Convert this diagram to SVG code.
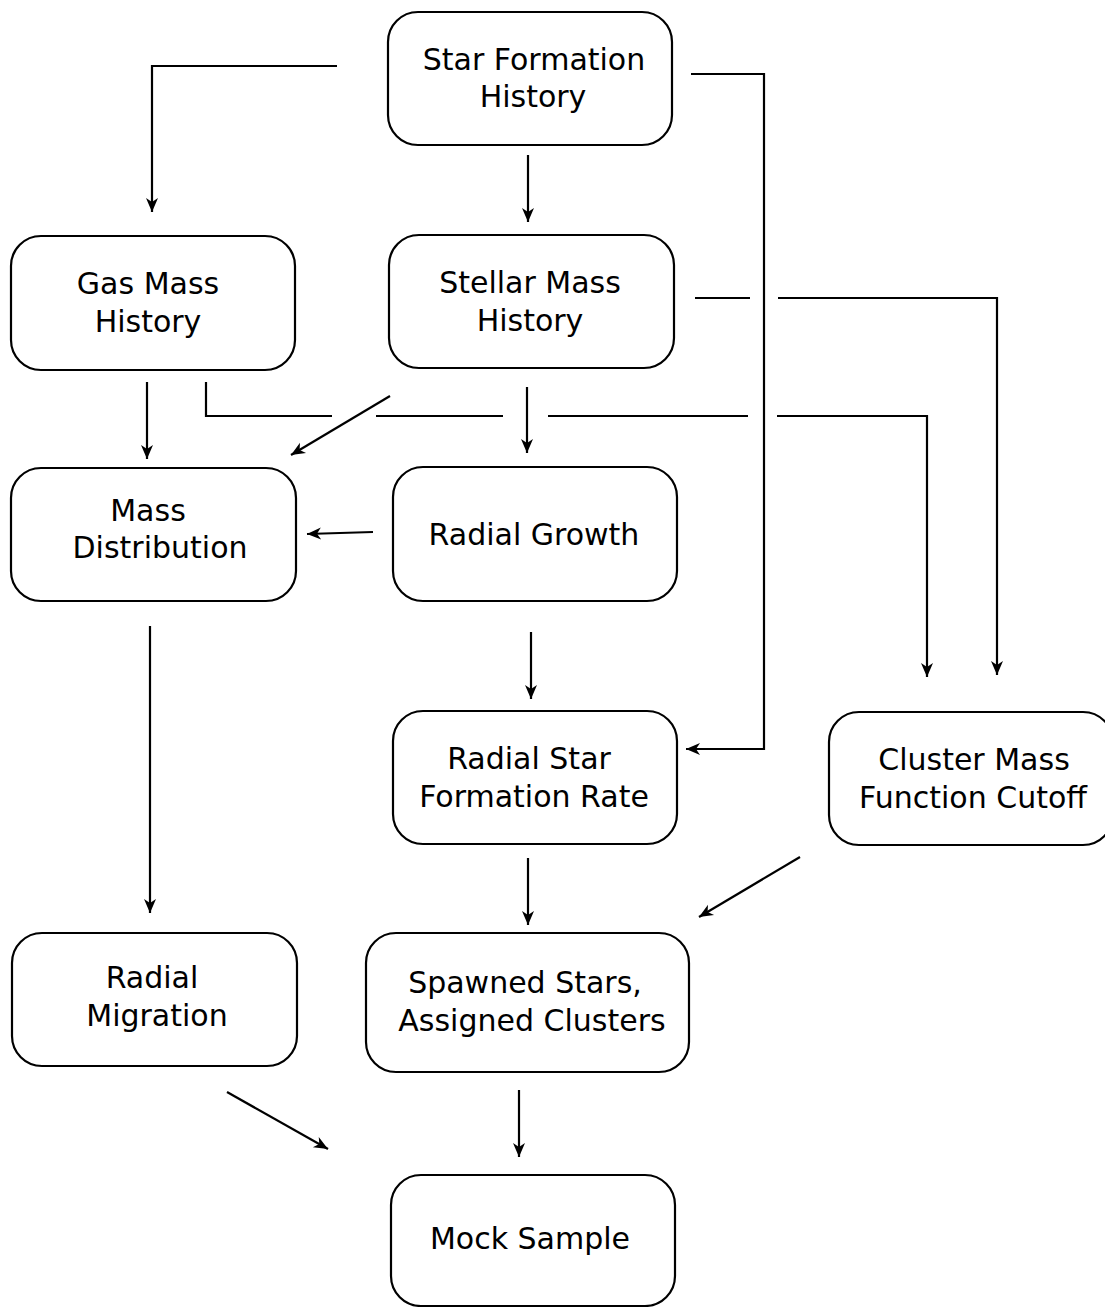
<svg xmlns="http://www.w3.org/2000/svg" width="1105" height="1307" viewBox="0 0 1105 1307">
<style>
.box{fill:#fff;stroke:#000;stroke-width:2.2}
.t{font-family:"DejaVu Sans",sans-serif;font-size:30px;fill:#000;text-anchor:middle}
.c{fill:none;stroke:#000;stroke-width:2.2}
</style>
<defs>
<marker id="ah" viewBox="-16 -8 18 16" markerWidth="18" markerHeight="16" refX="0" refY="0" orient="auto" markerUnits="userSpaceOnUse">
<path d="M0,0 L-14,-6 L-10,0 L-14,6 z" fill="#000"/>
</marker>
</defs>
<rect width="1105" height="1307" fill="#fff"/>
<g id="connectors">
<path class="c" d="M337,66 H152 V212" marker-end="url(#ah)"/>
<path class="c" d="M691,74 H764 V749 H686" marker-end="url(#ah)"/>
<path class="c" d="M528,155 V222" marker-end="url(#ah)"/>
<path class="c" d="M695,298 H750 M778,298 H997 V675" marker-end="url(#ah)"/>
<path class="c" d="M147,382 V459" marker-end="url(#ah)"/>
<path class="c" d="M206,382 V416 H332 M376,416 H503 M548,416 H748 M777,416 H927 V677" marker-end="url(#ah)"/>
<path class="c" d="M390,396 L291,455" marker-end="url(#ah)"/>
<path class="c" d="M527,387 V453" marker-end="url(#ah)"/>
<path class="c" d="M373,532 L307,534" marker-end="url(#ah)"/>
<path class="c" d="M531,632 V699" marker-end="url(#ah)"/>
<path class="c" d="M150,626 V913" marker-end="url(#ah)"/>
<path class="c" d="M528,858 V925" marker-end="url(#ah)"/>
<path class="c" d="M800,857 L699,917" marker-end="url(#ah)"/>
<path class="c" d="M227,1092 L328,1149" marker-end="url(#ah)"/>
<path class="c" d="M519,1090 V1157" marker-end="url(#ah)"/>
</g>
<g id="n1"><rect class="box" x="388" y="12" width="284" height="133" rx="30"/><text class="t" x="534" y="70">Star Formation</text><text class="t" x="533" y="107">History</text></g>
<g id="n2"><rect class="box" x="11" y="236" width="284" height="134" rx="30"/><text class="t" x="148" y="294">Gas Mass</text><text class="t" x="148" y="332">History</text></g>
<g id="n3"><rect class="box" x="389" y="235" width="285" height="133" rx="30"/><text class="t" x="530" y="293">Stellar Mass</text><text class="t" x="530" y="331">History</text></g>
<g id="n4"><rect class="box" x="11" y="468" width="285" height="133" rx="30"/><text class="t" x="148" y="521">Mass</text><text class="t" x="160" y="558">Distribution</text></g>
<g id="n5"><rect class="box" x="393" y="467" width="284" height="134" rx="30"/><text class="t" x="534" y="545">Radial Growth</text></g>
<g id="n6"><rect class="box" x="393" y="711" width="284" height="133" rx="30"/><text class="t" x="529" y="769">Radial Star</text><text class="t" x="534" y="807">Formation Rate</text></g>
<g id="n7"><rect class="box" x="829" y="712" width="284" height="133" rx="30"/><text class="t" x="974" y="770">Cluster Mass</text><text class="t" x="973" y="808">Function Cutoff</text></g>
<g id="n8"><rect class="box" x="12" y="933" width="285" height="133" rx="30"/><text class="t" x="152" y="988">Radial</text><text class="t" x="157" y="1026">Migration</text></g>
<g id="n9"><rect class="box" x="366" y="933" width="323" height="139" rx="30"/><text class="t" x="525" y="993">Spawned Stars,</text><text class="t" x="532" y="1031">Assigned Clusters</text></g>
<g id="n10"><rect class="box" x="391" y="1175" width="284" height="131" rx="30"/><text class="t" x="530" y="1249">Mock Sample</text></g>
</svg>
